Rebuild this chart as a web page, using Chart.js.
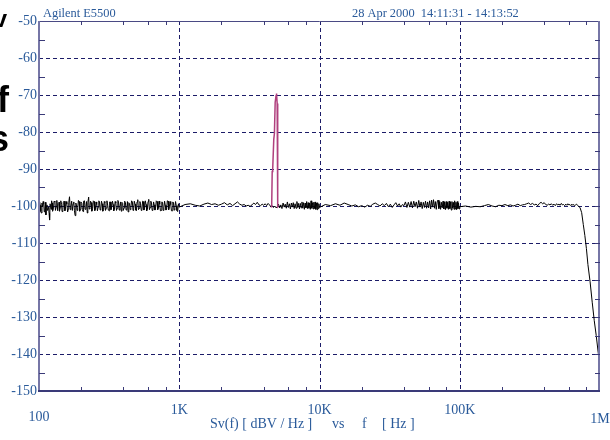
<!DOCTYPE html>
<html>
<head>
<meta charset="utf-8">
<title>Sv(f) noise spectrum</title>
<script src="https://cdn.jsdelivr.net/npm/chart.js@4.4.1/dist/chart.umd.min.js"></script>
<style>
  html, body { margin: 0; padding: 0; background: #ffffff; }
  #wrap { position: relative; width: 610px; height: 440px; overflow: hidden; }
  canvas { display: block; }
</style>
</head>
<body>
<div id="wrap"><canvas id="plot" width="610" height="440"></canvas></div>
<script>
// Spectrum segments: [frequency Hz, level dBV/Hz]
const noiseLow = [
  [100,-100.6],[101,-98.9],[102,-99.8],[103,-101.5],[104,-101.9],[105,-99.2],[106,-100.2],[107,-98.8],
  [108,-99.4],[109,-101.6],[110,-101.1],[111,-99.0],[112,-102.4],[113,-100.1],[114,-99.7],[115,-101.2],
  [117,-100.3],[118,-102.0],[119,-103.8],[120,-99.4],[122,-100.9],[123,-98.6],[124,-99.2],[125,-101.4],
  [127,-100.6],[128,-98.7],[130,-98.9],[131,-101.2],[133,-100.1],[134,-98.5],[136,-101.3],[137,-99.3],
  [139,-99.0],[140,-101.4],[142,-100.4],[143,-98.6],[145,-99.6],[146,-101.5],[148,-101.0],[149,-99.0],
  [151,-98.7],[153,-101.3],[155,-100.2],[156,-98.8],[158,-99.5],[160,-101.6],[162,-100.8],[163,-99.1],
  [165,-97.5],[167,-101.0],[169,-100.0],[171,-98.7],[173,-101.2],[175,-99.4],[177,-98.9],[179,-101.3],
  [181,-102.6],[183,-99.2],[185,-99.6],[187,-101.2],[189,-100.4],[191,-98.5],[193,-98.8],[195,-101.4],
  [197,-100.9],[199,-98.9],[202,-99.3],[204,-101.0],[206,-101.5],[208,-98.7],[211,-98.6],[213,-100.9],
  [216,-100.2],[218,-98.8],[221,-101.9],[223,-99.0],[226,-97.6],[228,-100.8],[231,-100.4],[233,-98.7],
  [236,-99.1],[238,-101.4],[241,-100.7],[244,-98.6],[247,-98.8],[249,-101.2],[252,-101.2],[255,-98.9],
  [258,-99.6],[261,-101.3],[264,-100.3],[267,-98.6],[270,-98.9],[273,-101.1],[276,-100.8],[279,-98.7],
  [282,-99.4],[285,-101.4],[289,-101.0],[292,-98.8],[295,-99.1],[298,-101.2],[302,-100.5],[305,-98.6],
  [309,-99.8],[312,-101.1],[316,-101.3],[319,-98.9],[323,-98.9],[326,-101.0],[330,-100.2],[334,-98.7],
  [338,-99.6],[341,-101.3],[345,-101.0],[349,-98.8],[353,-99.2],[357,-101.2],[361,-100.6],[365,-98.5],
  [369,-98.8],[373,-101.1],[378,-100.1],[382,-98.9],[386,-101.4],[390,-99.0],[395,-99.3],[399,-101.2],
  [404,-100.5],[408,-98.7],[413,-99.0],[418,-101.1],[423,-100.9],[427,-98.8],[432,-101.6],[437,-99.1],
  [442,-99.3],[447,-101.0],[452,-100.4],[457,-98.6],[463,-98.9],[468,-101.2],[473,-100.8],[478,-98.7],
  [484,-99.5],[489,-101.1],[495,-101.3],[500,-98.9],[506,-98.3],[512,-101.0],[518,-100.6],[524,-98.8],
  [530,-99.4],[536,-101.2],[542,-101.0],[548,-98.7],[554,-98.8],[560,-101.1],[567,-100.3],[573,-98.6],
  [580,-99.6],[586,-101.3],[593,-100.9],[599,-98.8],[606,-98.2],[613,-101.0],[620,-100.4],[627,-98.7],
  [634,-99.2],[641,-101.2],[649,-101.1],[656,-98.9],[663,-99.7],[671,-101.1],[679,-100.3],[686,-98.6],
  [694,-98.8],[702,-101.0],[710,-100.6],[718,-98.7],[726,-99.5],[734,-101.3],[743,-101.2],[751,-98.9],
  [760,-99.0],[768,-101.2],[777,-100.5],[786,-98.7],[795,-99.8],[804,-101.1],[813,-100.9],[822,-98.6],
  [832,-98.7],[841,-101.0],[851,-100.2],[860,-98.8],[870,-99.6],[880,-101.3],[890,-101.3],[900,-98.9],
  [910,-99.2],[920,-101.1],[931,-100.4],[941,-98.8],[952,-99.9],[963,-101.2],[974,-101.5],[987,-99.4],
  [1000,-100.3]
];

const noiseMid = [
  [1100,-99.6],[1200,-99.4],[1300,-99.8],[1400,-100.0],[1500,-99.5],[1600,-99.2],[1700,-99.6],[1800,-99.4],
  [1900,-99.8],[2000,-99.5],[2100,-99.1],[2200,-99.7],[2300,-99.3],[2400,-99.9],[2500,-99.4],[2600,-98.9],
  [2700,-99.5],[2800,-99.8],[2900,-99.6],[3000,-100.0],[3100,-99.8],[3200,-100.1],[3300,-99.7],[3400,-99.2],
  [3500,-99.6],[3600,-99.0],[3700,-99.7],[3800,-99.9],[3900,-99.5],[4000,-99.8],[4100,-99.4],[4200,-99.9],
  [4300,-99.3],[4400,-99.7],[4500,-100.2],[4600,-99.9],[4700,-100.4],[4800,-100.0],[4900,-100.5],[5000,-100.2],
  [5100,-99.5],[5200,-100.5],[5300,-99.7],[5400,-100.7],[5500,-99.2],[5600,-100.3],[5700,-99.5],[5800,-100.6],
  [5900,-98.9],[6000,-100.4],[6100,-99.4],[6200,-100.8],[6300,-99.2],[6400,-100.3],[6500,-99.1],[6600,-100.7],
  [6700,-99.4],[6800,-100.6],[6900,-98.8],[7000,-100.4],[7100,-99.3],[7200,-100.8],[7300,-99.3],[7400,-100.5],
  [7500,-98.9],[7600,-100.6],[7700,-99.1],[7800,-100.9],[7900,-99.2],[8000,-100.5],[8100,-98.8],[8200,-100.7],
  [8300,-99.1],[8400,-100.6],[8500,-99.2],[8600,-100.9],[8700,-98.6],[8800,-100.6],[8900,-99.1],[9000,-100.8],
  [9100,-99.0],[9200,-100.7],[9300,-98.9],[9400,-100.9],[9500,-99.2],[9600,-101.0],[9700,-99.1],[9800,-100.7],
  [9900,-99.4],[10000,-100.4]
];

const noiseHigh = [
  [11000,-99.6],[12000,-99.9],[13000,-99.4],[14000,-99.8],[15000,-99.2],[16000,-99.6],[17000,-100.0],[18000,-99.7],
  [19000,-100.2],[20000,-99.9],[21000,-100.3],[22000,-99.8],[23000,-100.1],[24000,-99.5],[25000,-99.2],[26000,-99.6],
  [27000,-100.0],[28000,-99.4],[29000,-99.9],[30000,-99.3],[31000,-100.2],[32000,-99.5],[33000,-100.4],[34000,-99.7],
  [35000,-99.1],[36000,-100.0],[37000,-99.4],[38000,-100.3],[39000,-99.6],[40000,-99.9],[41000,-98.9],[42000,-100.4],
  [43000,-99.0],[44000,-100.3],[45000,-98.8],[46000,-100.5],[47000,-98.7],[48000,-100.2],[49000,-98.9],[50000,-100.6],
  [51000,-98.5],[52000,-100.3],[53000,-98.9],[54000,-100.7],[55000,-99.0],[56000,-100.4],[57000,-98.7],[58000,-100.6],
  [59000,-98.9],[60000,-100.5],[61000,-98.6],[62000,-100.8],[63000,-98.4],[64000,-100.3],[65000,-98.3],[66000,-100.6],
  [67000,-98.8],[68000,-100.9],[69000,-98.9],[70000,-98.4],[71000,-100.7],[72000,-98.8],[73000,-100.9],[74000,-99.0],
  [75000,-100.5],[76000,-98.7],[77000,-100.8],[78000,-98.9],[79000,-101.0],[80000,-98.8],[81000,-100.6],[82000,-99.0],
  [83000,-100.9],[84000,-98.7],[85000,-100.7],[86000,-98.9],[87000,-101.1],[88000,-98.8],[89000,-100.6],[90000,-99.0],
  [91000,-100.9],[92000,-98.6],[93000,-100.8],[94000,-99.0],[95000,-101.0],[96000,-98.8],[97000,-100.7],[98000,-99.2],
  [99000,-100.8],[100000,-100.2]
];

const noiseTop = [
  [110000,-100.0],[120000,-100.3],[130000,-100.1],[140000,-100.2],[150000,-99.9],[160000,-99.6],[170000,-100.0],
  [180000,-100.2],[190000,-99.8],[200000,-99.9],[210000,-99.6],[220000,-99.9],[230000,-99.7],[240000,-100.0],
  [250000,-99.8],[260000,-99.5],[270000,-99.9],[280000,-99.7],[290000,-99.6],[300000,-99.4],[310000,-99.2],
  [320000,-99.6],[330000,-99.3],[340000,-99.7],[350000,-99.5],[360000,-99.9],[370000,-99.3],[380000,-99.0],
  [390000,-99.4],[400000,-99.1],[410000,-99.6],[420000,-99.8],[430000,-99.5],[440000,-99.7],[450000,-99.4],
  [460000,-99.8],[470000,-99.5],[480000,-99.9],[490000,-99.4],[500000,-99.7],[510000,-99.5],[520000,-99.8],
  [530000,-99.3],[540000,-99.7],[550000,-99.6],[560000,-99.9],[570000,-99.5],[580000,-99.8],[590000,-99.4],
  [600000,-99.7],[610000,-99.6],[620000,-99.9],[630000,-99.5],[640000,-99.8],[650000,-99.6],[660000,-99.9],
  [670000,-99.7],[680000,-99.5],[690000,-99.8],[700000,-100.0]
];

// Anti-alias filter roll-off above ~700 kHz
const rollOff = [
  [720000,-100.4],[740000,-101.8],[760000,-105.0],[780000,-108.0],[800000,-111.5],[820000,-115.8],
  [850000,-120.5],[880000,-126.0],[910000,-131.0],[940000,-135.0],[970000,-139.5],[990000,-142.0],[1000000,-147.0]
];

// Injected test tone near 5 kHz
const tone = [
  [4560,-100.4],[4600,-90.7],[4640,-89.8],[4720,-82.0],[4770,-80.4],[4830,-72.0],[4900,-70.2],
  [4940,-69.6],[4990,-72.3],[5030,-73.0],[5040,-100.3],[5080,-100.2]
];

// Axis values
const yMajor = [-60, -70, -80, -90, -100, -110, -120, -130, -140];
const yLabels = [-50, -60, -70, -80, -90, -100, -110, -120, -130, -140, -150];
const yMinor = [-55, -65, -75, -85, -95, -105, -115, -125, -135, -145];
const xMajor = [1e3, 1e4, 1e5];
const xLabels = [
  { v: 1e2, t: '100', dy: 26 },
  { v: 1e3, t: '1K', dy: 19 },
  { v: 1e4, t: '10K', dy: 19 },
  { v: 1e5, t: '100K', dy: 19 },
  { v: 1e6, t: '1M', dy: 28 }
];
const xMinorMult = [2, 4, 6, 8];
const decades = [1e2, 1e3, 1e4, 1e5];

const instrument = 'Agilent E5500';
const stamp = '28 Apr 2000  14:11:31 - 14:13:52';
// x-axis caption pieces with their left edges
const axisTitle = [
  { t: 'Sv(f) [ dBV / Hz ]', x: 210 },
  { t: 'vs', x: 332 },
  { t: 'f', x: 362 },
  { t: '[ Hz ]', x: 382 }
];

const toXY = arr => arr.map(p => ({ x: p[0], y: p[1] }));
const spectrum = [].concat(noiseLow, noiseMid, noiseHigh, noiseTop, rollOff);

const BLUE = '#2a5a9a';
const GRID = '#1c1c68';
const AXIS_L = '#7676a6';
const AXIS_B = '#3a3a78';
const SERIF = '"Liberation Serif", "Times New Roman", serif';

const frame = {
  id: 'frame',
  beforeDatasetsDraw(chart) {
    const { ctx, chartArea: a, scales: { x, y } } = chart;
    ctx.save();
    ctx.strokeStyle = GRID;
    ctx.lineWidth = 1;
    ctx.setLineDash([4, 3]);
    yMajor.forEach(v => {
      const py = Math.round(y.getPixelForValue(v)) + 0.5;
      ctx.beginPath(); ctx.moveTo(a.left, py); ctx.lineTo(a.right, py); ctx.stroke();
    });
    xMajor.forEach(v => {
      const px = Math.round(x.getPixelForValue(v)) + 0.5;
      ctx.beginPath(); ctx.moveTo(px, a.top); ctx.lineTo(px, a.bottom); ctx.stroke();
    });
    ctx.restore();
  },
  afterDatasetsDraw(chart) {
    const { ctx, chartArea: a, scales: { x, y } } = chart;
    ctx.save();
    ctx.setLineDash([]);
    // frame lines
    ctx.lineWidth = 1;
    ctx.strokeStyle = '#4a4a84';
    ctx.beginPath(); ctx.moveTo(a.left, a.top + 0.5); ctx.lineTo(a.right, a.top + 0.5); ctx.stroke();
    ctx.lineWidth = 2;
    ctx.strokeStyle = AXIS_L;
    ctx.beginPath(); ctx.moveTo(a.left, a.top); ctx.lineTo(a.left, a.bottom); ctx.stroke();
    ctx.beginPath(); ctx.moveTo(a.right - 1, a.top); ctx.lineTo(a.right - 1, a.bottom); ctx.stroke();
    ctx.strokeStyle = AXIS_B;
    ctx.beginPath(); ctx.moveTo(a.left - 1, a.bottom); ctx.lineTo(a.right, a.bottom); ctx.stroke();

    // tick marks
    ctx.lineWidth = 1;
    ctx.strokeStyle = AXIS_B;
    yMinor.forEach(v => {
      const py = Math.round(y.getPixelForValue(v)) + 0.5;
      ctx.beginPath(); ctx.moveTo(a.left, py); ctx.lineTo(a.left + 6, py); ctx.stroke();
    });
    yMinor.concat(yMajor).forEach(v => {
      const py = Math.round(y.getPixelForValue(v)) + 0.5;
      ctx.beginPath(); ctx.moveTo(a.right - 5, py); ctx.lineTo(a.right, py); ctx.stroke();
    });
    decades.forEach(d => xMinorMult.forEach(m => {
      const px = Math.round(x.getPixelForValue(d * m)) + 0.5;
      ctx.beginPath(); ctx.moveTo(px, a.bottom); ctx.lineTo(px, a.bottom - 4); ctx.stroke();
      ctx.beginPath(); ctx.moveTo(px, a.top); ctx.lineTo(px, a.top + 4); ctx.stroke();
    }));

    // labels
    ctx.fillStyle = BLUE;
    ctx.font = '14px ' + SERIF;
    ctx.textAlign = 'right';
    ctx.textBaseline = 'middle';
    yLabels.forEach(v => ctx.fillText(String(v), a.left - 2, y.getPixelForValue(v)));
    ctx.textAlign = 'center';
    xLabels.forEach(l => ctx.fillText(l.t, x.getPixelForValue(l.v), a.bottom + l.dy));
    ctx.textAlign = 'left';
    axisTitle.forEach(p => ctx.fillText(p.t, p.x, a.bottom + 33));
    ctx.font = '12.4px ' + SERIF;
    ctx.textBaseline = 'alphabetic';
    ctx.fillText(instrument, 43, 17);
    ctx.fillText(stamp, 352, 17);

    // slide text running in from the left edge
    ctx.fillStyle = '#000000';
    ctx.textAlign = 'right';
    ctx.font = 'bold 24px "Liberation Sans", Arial, sans-serif';
    ctx.fillText('v', 7, 27);
    ctx.font = 'bold 36px "Liberation Sans", Arial, sans-serif';
    ctx.fillText('f', 9, 112);
    ctx.fillText('s', 9, 151);
    ctx.restore();
  }
};

new Chart(document.getElementById('plot'), {
  type: 'line',
  data: {
    datasets: [
      { label: 'tone', data: toXY(tone), borderColor: '#b0407e', borderWidth: 1.5,
        pointRadius: 0, tension: 0, fill: false },
      { label: 'Sv', data: toXY(spectrum), borderColor: '#000000', borderWidth: 1,
        pointRadius: 0, tension: 0, fill: false }
    ]
  },
  options: {
    responsive: false,
    animation: false,
    events: [],
    layout: { padding: { left: 39, right: 10, top: 21, bottom: 49 } },
    plugins: { legend: { display: false }, tooltip: { enabled: false } },
    scales: {
      x: { type: 'logarithmic', min: 100, max: 1e6, display: false },
      y: { type: 'linear', min: -150, max: -50, display: false }
    }
  },
  plugins: [frame]
});
</script>
</body>
</html>
